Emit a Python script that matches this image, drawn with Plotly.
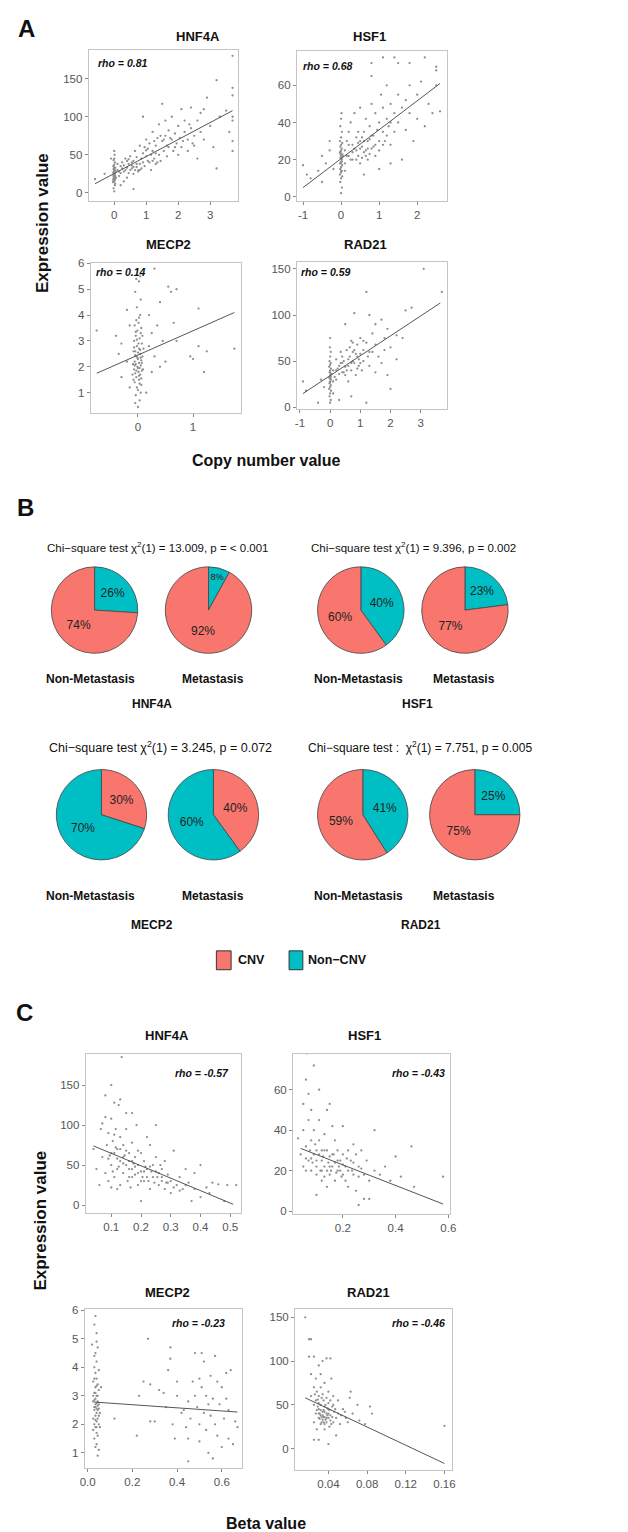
import plotly.graph_objects as go

W, H = 628, 1532

# ---------------- DATA ----------------
# Panel A: copy number value vs expression value
A_HNF4A_pts = [
    (0, 2), (-0.02, 6), (0.02, 10), (0.03, 12), (-0.04, 14), (0, 15), (0.02, 17), (-0.03, 18), (0.04, 19), (0, 20),
    (-0.02, 21), (0.03, 22), (0, 23), (-0.04, 24), (0.02, 25), (0, 26), (-0.03, 27), (0.04, 28), (0, 29), (0.02, 30),
    (-0.02, 31), (0, 32), (0.03, 33), (-0.03, 35), (0, 37), (0.02, 40), (-0.02, 43), (0, 45), (0.01, 50), (0, 55),
    (0, 24), (0.01, 19), (-0.01, 27), (0, 33), (0.02, 22), (-0.02, 16),
    (0.1, 30), (0.15, 22), (0.2, 35), (0.25, 40), (0.3, 28), (0.35, 45), (0.4, 33), (0.45, 38), (0.5, 30), (0.5, 48),
    (0.55, 36), (0.6, 42), (0.6, 25), (0.65, 55), (0.7, 34), (0.7, 47), (0.75, 30), (0.8, 62), (0.8, 38), (0.85, 45),
    (0.9, 100), (0.9, 52), (0.95, 35), (1.0, 70), (1.0, 48), (1.05, 58), (1.1, 40), (1.1, 65), (1.15, 30), (1.2, 55),
    (1.2, 80), (1.25, 45), (1.3, 62), (1.3, 38), (1.35, 72), (1.4, 50), (1.4, 90), (1.45, 42), (1.5, 117), (1.5, 68),
    (1.55, 55), (1.6, 75), (1.6, 95), (1.65, 48), (1.7, 82), (1.7, 60), (1.8, 70), (1.8, 100), (1.85, 55), (1.9, 78),
    (1.95, 65), (2.0, 88), (2.0, 50), (2.05, 72), (2.1, 110), (2.1, 60), (2.2, 80), (2.2, 95), (2.3, 70), (2.3, 55),
    (2.4, 85), (2.4, 112), (2.5, 75), (2.5, 62), (2.6, 95), (2.6, 45), (2.7, 105), (2.8, 110), (2.8, 70), (2.9, 125),
    (3.0, 88), (3.1, 60), (3.2, 148), (3.2, 32), (3.3, 100), (3.5, 108), (3.6, 80), (3.7, 180), (3.7, 138), (3.7, 128),
    (3.7, 100), (3.7, 68), (3.7, 55), (3.7, 95), (-0.6, 18), (-0.3, 25), (-0.1, 45), (0.3, 15), (0.6, 5), (0.4, 20),
    (0.2, 10), (0.55, 32), (0.65, 30), (0.75, 28), (1.25, 68), (1.45, 75), (0.95, 60), (1.05, 42), (0.45, 26),
    (0.35, 30), (0.45, 44), (0.55, 40), (0.7, 38), (0.85, 32), (0.9, 40), (1.0, 56), (1.15, 50), (1.3, 52),
    (1.35, 40), (1.55, 70), (1.65, 62), (1.75, 72), (1.9, 60), (2.15, 68), (2.35, 90), (2.45, 65), (2.7, 80),
    (0.25, 32), (0.15, 28), (0.05, 20), (0.1, 38), (0.2, 26), (0.3, 36), (0.4, 42), (0.6, 34), (0.8, 30), (1.2, 42),
]
A_HNF4A_fit_x = [-0.6, 3.7]
A_HNF4A_fit_y = [12, 108]

A_HSF1_pts = [
    (0, 2), (0.02, 5), (-0.02, 8), (0, 10), (0.03, 11), (-0.03, 12), (0, 13), (0.02, 14), (-0.02, 15), (0, 16),
    (0.03, 17), (-0.03, 18), (0, 19), (0.02, 20), (-0.02, 21), (0, 22), (0.03, 23), (-0.03, 24), (0, 25), (0.02, 26),
    (-0.02, 27), (0, 28), (0.03, 29), (-0.03, 30), (0, 32), (0.02, 35), (-0.02, 38), (0, 42), (0.01, 45),
    (0, 18), (0.01, 21), (-0.01, 24), (0, 14), (0.02, 19), (-0.02, 23),
    (-1.0, 17), (-0.9, 12), (-0.8, 10), (-0.6, 14), (-0.5, 8), (-0.5, 22), (-0.4, 18), (-0.3, 30), (-0.3, 25), (-0.2, 15),
    (0.1, 25), (0.1, 18), (0.15, 30), (0.2, 22), (0.2, 35), (0.25, 40), (0.3, 20), (0.3, 28), (0.35, 45), (0.4, 25),
    (0.4, 32), (0.45, 22), (0.5, 30), (0.5, 48), (0.5, 18), (0.55, 27), (0.6, 35), (0.6, 24), (0.65, 42), (0.7, 30),
    (0.7, 20), (0.75, 38), (0.8, 26), (0.8, 50), (0.85, 33), (0.9, 28), (0.9, 45), (0.95, 36), (1.0, 40), (1.0, 25),
    (1.05, 55), (1.1, 35), (1.1, 48), (1.15, 30), (1.2, 42), (1.2, 60), (1.25, 38), (1.3, 50), (1.3, 28), (1.4, 45),
    (1.4, 35), (1.5, 55), (1.5, 40), (1.6, 48), (1.7, 36), (1.7, 52), (1.8, 45), (1.8, 60), (1.9, 30), (2.0, 55),
    (2.0, 42), (2.1, 62), (2.2, 38), (2.3, 50), (2.4, 45), (2.6, 46), (2.5, 60), (1.6, 20), (1.3, 18), (0.6, 12),
    (1.0, 15), (0.8, 72), (1.1, 75), (1.4, 75), (1.8, 72), (2.2, 75), (2.5, 70), (2.5, 68), (0.8, 65), (1.5, 72),
    (0.35, 26), (0.45, 29), (0.55, 21), (0.65, 25), (0.75, 23), (0.25, 20), (0.15, 22), (0.85, 27),
    (0.2, 28), (0.3, 24), (0.4, 20), (0.5, 26), (0.6, 30), (0.7, 26), (0.8, 33), (0.9, 22), (1.0, 30), (1.1, 28),
    (1.2, 33), (1.3, 40), (0.1, 14), (0.05, 22), (0.45, 35), (0.55, 32), (0.65, 22), (0.75, 31),
]
A_HSF1_fit_x = [-1.0, 2.6]
A_HSF1_fit_y = [5, 61]

A_MECP2_pts = [
    (0, 0.45), (0.03, 0.7), (-0.04, 0.9), (0.05, 1.0), (-0.02, 1.2), (0.06, 1.3), (-0.06, 1.4), (0.02, 1.5), (-0.03, 1.6),
    (0.04, 1.7), (-0.05, 1.75), (0.01, 1.8), (0.07, 1.85), (-0.07, 1.9), (0.03, 1.95), (-0.01, 2.0), (0.05, 2.05),
    (-0.04, 2.1), (0.02, 2.15), (-0.06, 2.2), (0.06, 2.25), (0, 2.3), (-0.03, 2.4), (0.04, 2.5), (-0.05, 2.6),
    (0.02, 2.7), (-0.02, 2.8), (0.07, 2.9), (-0.07, 3.0), (0.03, 3.1), (-0.04, 3.2), (0.05, 3.3), (-0.01, 3.4),
    (0.06, 3.5), (-0.06, 3.6), (0.01, 3.7), (-0.03, 3.8), (0.04, 4.0), (-0.02, 4.3), (0.05, 4.6), (-0.05, 4.9),
    (0.02, 5.3), (-0.03, 5.4), (0.04, 5.5), (0.08, 2.4), (-0.08, 2.6), (0.09, 1.9), (-0.09, 2.1), (0.1, 2.7),
    (-0.1, 1.7), (0.08, 3.2), (-0.08, 1.5), (0.0, 2.55), (0.02, 1.65), (-0.01, 2.35),
    (0.0, 1.1), (0.03, 1.35), (-0.03, 1.85), (0.05, 2.35), (-0.05, 2.45), (0.01, 2.9), (-0.04, 3.35), (0.06, 1.55),
    (-0.06, 2.05), (0.04, 2.65), (-0.02, 3.05), (0.02, 3.9), (0.07, 2.15), (-0.07, 2.75), (0.0, 1.95),
    (-0.75, 3.4), (-0.4, 3.2), (-0.35, 2.5), (-0.3, 1.6), (-0.3, 2.9), (-0.2, 4.2), (-0.2, 2.2), (-0.15, 3.6),
    (-0.15, 1.2), (0.2, 4.0), (0.2, 2.8), (0.25, 3.3), (0.25, 1.8), (0.3, 5.8), (0.3, 2.4), (0.35, 3.6), (0.4, 4.5),
    (0.4, 2.0), (0.45, 3.0), (0.5, 2.2), (0.55, 5.1), (0.6, 4.9), (0.65, 3.7), (0.7, 5.0), (0.7, 3.0), (0.95, 2.4),
    (1.0, 2.3), (1.1, 4.25), (1.1, 2.8), (1.2, 1.8), (1.25, 2.6), (1.75, 2.7), (0.15, 1.0), (-0.05, 0.6),
]
A_MECP2_fit_x = [-0.75, 1.75]
A_MECP2_fit_y = [1.75, 4.1]

A_RAD21_pts = [
    (0, 5), (0.02, 8), (-0.02, 12), (0, 15), (0.03, 18), (-0.03, 20), (0, 22), (0.02, 24), (-0.02, 26), (0, 28),
    (0.03, 30), (-0.03, 32), (0, 34), (0.02, 36), (-0.02, 38), (0, 40), (0.03, 42), (-0.03, 44), (0, 46), (0.02, 48),
    (-0.02, 50), (0, 55), (0.02, 60), (-0.01, 65), (0, 75), (0, 31), (0.01, 35), (-0.01, 27), (0, 38), (0.02, 33),
    (-0.9, 28), (-0.8, 18), (-0.4, 5), (-0.3, 30), (-0.2, 22), (0.1, 40), (0.1, 15), (0.2, 52), (0.2, 30), (0.3, 45),
    (0.3, 8), (0.35, 60), (0.4, 38), (0.45, 50), (0.5, 35), (0.5, 90), (0.55, 62), (0.6, 45), (0.6, 28), (0.65, 55),
    (0.7, 72), (0.7, 40), (0.75, 60), (0.8, 48), (0.8, 102), (0.85, 35), (0.9, 55), (0.9, 68), (0.95, 45), (1.0, 58),
    (1.0, 75), (1.05, 40), (1.1, 62), (1.1, 50), (1.2, 125), (1.2, 70), (1.25, 55), (1.3, 100), (1.3, 45), (1.4, 80),
    (1.4, 60), (1.5, 68), (1.5, 90), (1.6, 55), (1.7, 95), (1.7, 48), (1.8, 75), (1.8, 62), (1.9, 35), (1.9, 85),
    (2.0, 65), (2.0, 20), (2.2, 52), (2.2, 78), (2.4, 75), (2.5, 105), (2.7, 108), (3.1, 150), (3.7, 125), (1.2, 5),
    (0.7, 12), (1.5, 38), (0.25, 42), (0.4, 48), (0.55, 40), (0.65, 65), (0.75, 50), (0.85, 58), (0.15, 33),
    (0.2, 40), (0.3, 36), (0.4, 55), (0.5, 44), (0.6, 52), (0.7, 48), (0.8, 62), (0.9, 42), (1.0, 48), (1.1, 72),
    (1.3, 60), (0.05, 36), (0.1, 28), (0.35, 48), (0.45, 38), (0.75, 70), (0.95, 52),
]
A_RAD21_fit_x = [-0.9, 3.65]
A_RAD21_fit_y = [15, 113]

# Panel B: CNV share (%) per group, in drawing order (clockwise from 12 o'clock)
B_groups = ["Non-Metastasis", "Metastasis"]
B_HNF4A = [(["Non-CNV", "CNV"], [26, 74]), (["Non-CNV", "CNV"], [8, 92])]
B_HSF1 = [(["Non-CNV", "CNV"], [40, 60]), (["Non-CNV", "CNV"], [23, 77])]
B_MECP2 = [(["CNV", "Non-CNV"], [30, 70]), (["CNV", "Non-CNV"], [40, 60])]
B_RAD21 = [(["Non-CNV", "CNV"], [41, 59]), (["Non-CNV", "CNV"], [25, 75])]
B_titles = [
    "Chi−square test χ<sup>2</sup>(1) = 13.009, p = < 0.001",
    "Chi−square test χ<sup>2</sup>(1) = 9.396, p = 0.002",
    "Chi−square test χ<sup>2</sup>(1) = 3.245, p = 0.072",
    "Chi−square test :  χ<sup>2</sup>(1) = 7.751, p = 0.005",
]
B_genes = ["HNF4A", "HSF1", "MECP2", "RAD21"]

# Panel C: beta value vs expression value
C_HNF4A_pts = [
    (0.04, 70), (0.05, 45), (0.06, 25), (0.065, 95), (0.07, 102), (0.07, 60), (0.08, 137), (0.08, 110), (0.08, 40),
    (0.085, 75), (0.09, 30), (0.09, 90), (0.095, 62), (0.1, 150), (0.1, 108), (0.1, 50), (0.1, 22), (0.105, 80),
    (0.11, 128), (0.11, 65), (0.11, 35), (0.115, 95), (0.12, 70), (0.12, 45), (0.125, 125), (0.13, 132), (0.13, 85),
    (0.13, 55), (0.13, 25), (0.14, 60), (0.14, 75), (0.14, 40), (0.15, 115), (0.15, 50), (0.15, 95), (0.155, 30),
    (0.16, 65), (0.16, 45), (0.165, 22), (0.17, 115), (0.17, 55), (0.17, 78), (0.18, 38), (0.18, 60), (0.185, 100),
    (0.19, 50), (0.19, 25), (0.2, 65), (0.2, 42), (0.2, 5), (0.21, 55), (0.21, 30), (0.22, 85), (0.22, 45),
    (0.23, 75), (0.23, 20), (0.24, 50), (0.24, 35), (0.25, 100), (0.25, 60), (0.26, 40), (0.26, 25), (0.27, 45),
    (0.27, 30), (0.28, 20), (0.28, 55), (0.29, 38), (0.3, 30), (0.3, 15), (0.31, 68), (0.32, 25), (0.33, 35),
    (0.34, 20), (0.35, 45), (0.36, 28), (0.37, 5), (0.38, 40), (0.38, 20), (0.4, 50), (0.4, 10), (0.42, 22),
    (0.43, 15), (0.44, 28), (0.46, 26), (0.48, 5), (0.49, 25), (0.52, 25), (0.135, 185), (0.12, 20), (0.17, 45),
    (0.09, 58), (0.105, 42), (0.115, 72), (0.125, 48), (0.145, 62), (0.16, 35), (0.175, 52), (0.19, 68), (0.205, 35),
    (0.215, 48), (0.225, 30), (0.235, 42), (0.245, 28), (0.255, 35), (0.265, 50), (0.285, 28), (0.31, 22), (0.33, 18),
    (0.1, 65), (0.11, 88), (0.12, 58), (0.13, 70), (0.14, 52), (0.15, 68), (0.16, 55), (0.17, 35), (0.18, 48),
    (0.19, 40), (0.2, 30), (0.21, 42), (0.22, 35), (0.23, 48), (0.25, 42), (0.27, 35), (0.29, 28), (0.35, 25),
]
C_HNF4A_fit_x = [0.04, 0.51]
C_HNF4A_fit_y = [74, 1]

C_HSF1_pts = [
    (0.03, 36), (0.04, 28), (0.05, 53), (0.05, 40), (0.05, 22), (0.06, 65), (0.06, 32), (0.065, 78), (0.07, 58),
    (0.07, 45), (0.07, 25), (0.08, 50), (0.08, 35), (0.08, 20), (0.09, 72), (0.09, 40), (0.09, 28), (0.1, 30),
    (0.1, 18), (0.1, 8), (0.11, 60), (0.11, 45), (0.11, 35), (0.12, 25), (0.12, 15), (0.13, 38), (0.13, 22),
    (0.14, 50), (0.14, 30), (0.14, 12), (0.15, 53), (0.15, 27), (0.15, 18), (0.16, 42), (0.16, 22), (0.17, 35),
    (0.17, 15), (0.18, 30), (0.18, 20), (0.19, 25), (0.2, 42), (0.2, 28), (0.2, 18), (0.21, 22), (0.22, 30),
    (0.22, 12), (0.23, 25), (0.24, 33), (0.24, 18), (0.25, 28), (0.25, 10), (0.26, 3), (0.26, 22), (0.27, 30),
    (0.28, 18), (0.28, 6), (0.29, 25), (0.3, 15), (0.3, 6), (0.32, 40), (0.32, 20), (0.34, 18), (0.36, 22),
    (0.38, 15), (0.4, 27), (0.42, 17), (0.46, 32), (0.47, 12), (0.58, 17), (0.1, 22), (0.12, 30), (0.06, 20),
    (0.13, 17), (0.18, 25), (0.21, 15), (0.085, 24), (0.095, 33), (0.115, 20), (0.125, 27), (0.145, 24),
    (0.155, 20), (0.165, 28), (0.175, 19), (0.185, 22), (0.195, 17), (0.215, 26), (0.235, 20), (0.075, 30),
    (0.08, 26), (0.1, 25), (0.11, 28), (0.12, 20), (0.13, 30), (0.14, 20), (0.15, 22), (0.16, 28), (0.17, 24),
    (0.19, 20), (0.2, 23), (0.22, 20), (0.24, 24), (0.26, 17), (0.27, 21), (0.06, 26),
]
C_HSF1_fit_x = [0.04, 0.58]
C_HSF1_fit_y = [31, 3.5]

C_MECP2_pts = [
    (0.02, 4.8), (0.025, 3.5), (0.025, 2.8), (0.025, 1.8), (0.03, 5.5), (0.03, 4.0), (0.03, 3.1), (0.03, 2.5),
    (0.03, 2.0), (0.03, 1.5), (0.035, 5.8), (0.035, 4.5), (0.035, 3.8), (0.035, 3.3), (0.035, 2.9), (0.035, 2.6),
    (0.035, 2.3), (0.035, 1.9), (0.035, 1.2), (0.04, 5.2), (0.04, 4.2), (0.04, 3.6), (0.04, 3.0), (0.04, 2.75),
    (0.04, 2.4), (0.04, 2.1), (0.04, 1.7), (0.04, 1.3), (0.045, 4.7), (0.045, 3.4), (0.045, 2.8), (0.045, 2.5),
    (0.045, 2.2), (0.045, 1.6), (0.045, 0.9), (0.05, 3.9), (0.05, 3.2), (0.05, 2.7), (0.05, 2.0), (0.05, 1.1),
    (0.055, 2.4), (0.055, 1.9), (0.06, 3.3), (0.03, 2.6), (0.04, 2.55), (0.035, 2.7), (0.03, 3.6), (0.045, 3.0),
    (0.05, 2.3), (0.025, 2.2), (0.04, 1.9), (0.035, 3.1), (0.03, 2.85), (0.04, 3.35), (0.045, 2.65), (0.035, 2.15),
    (0.025, 3.0), (0.05, 2.55), (0.03, 4.4), (0.04, 4.9),
    (0.12, 2.2), (0.22, 1.6), (0.23, 3.0), (0.25, 3.5), (0.27, 5.0), (0.28, 2.1), (0.28, 3.4), (0.3, 2.1),
    (0.32, 3.2), (0.34, 3.1), (0.35, 2.6), (0.36, 3.9), (0.37, 4.7), (0.37, 4.3), (0.38, 2.0), (0.39, 1.5),
    (0.4, 3.0), (0.4, 3.5), (0.42, 2.4), (0.43, 2.5), (0.44, 1.9), (0.45, 0.7), (0.45, 2.8), (0.46, 2.2),
    (0.47, 3.5), (0.48, 4.5), (0.48, 3.0), (0.49, 2.6), (0.5, 1.4), (0.5, 2.0), (0.51, 4.5), (0.51, 3.3),
    (0.52, 2.4), (0.52, 4.2), (0.53, 1.8), (0.53, 3.0), (0.54, 2.7), (0.54, 1.0), (0.55, 3.7), (0.55, 2.3),
    (0.56, 0.8), (0.56, 2.9), (0.57, 4.4), (0.57, 2.0), (0.58, 3.5), (0.58, 1.6), (0.59, 2.7), (0.6, 3.3),
    (0.6, 1.2), (0.61, 2.2), (0.62, 3.8), (0.62, 2.9), (0.63, 1.5), (0.63, 2.5), (0.64, 3.9), (0.65, 1.3),
    (0.66, 2.1), (0.67, 1.9), (0.45, 1.5), (0.5, 3.6),
]
C_MECP2_fit_x = [0.03, 0.67]
C_MECP2_fit_y = [2.78, 2.43]

C_RAD21_pts = [
    (0.016, 150), (0.02, 125), (0.02, 105), (0.022, 125), (0.022, 85), (0.022, 60), (0.025, 105), (0.025, 70),
    (0.025, 50), (0.025, 30), (0.025, 10), (0.027, 80), (0.027, 55), (0.027, 40), (0.028, 65), (0.028, 22),
    (0.03, 95), (0.03, 60), (0.03, 45), (0.03, 35), (0.03, 10), (0.032, 85), (0.032, 70), (0.032, 50), (0.032, 38),
    (0.032, 28), (0.034, 100), (0.034, 62), (0.034, 42), (0.034, 33), (0.035, 55), (0.035, 30), (0.036, 75),
    (0.036, 48), (0.036, 36), (0.036, 22), (0.038, 103), (0.038, 58), (0.038, 40), (0.038, 30), (0.04, 65),
    (0.04, 45), (0.04, 35), (0.04, 5), (0.041, 25), (0.042, 103), (0.042, 55), (0.042, 38), (0.043, 80),
    (0.044, 48), (0.045, 30), (0.045, 60), (0.046, 42), (0.048, 35), (0.048, 15), (0.05, 55), (0.05, 40),
    (0.052, 28), (0.055, 45), (0.058, 35), (0.06, 30), (0.062, 58), (0.063, 65), (0.065, 40), (0.07, 50),
    (0.072, 32), (0.078, 28), (0.083, 48), (0.085, 40), (0.16, 26), (0.03, 52), (0.035, 44), (0.04, 52),
    (0.045, 50), (0.033, 58), (0.031, 40), (0.033, 36), (0.037, 33), (0.039, 38), (0.029, 48), (0.026, 62),
    (0.044, 36), (0.047, 45), (0.053, 38), (0.057, 42), (0.036, 28), (0.039, 46), (0.028, 44),
    (0.03, 40), (0.032, 44), (0.034, 38), (0.036, 42), (0.038, 35), (0.04, 40), (0.042, 32), (0.035, 36),
    (0.037, 50), (0.033, 30), (0.041, 44), (0.029, 56), (0.043, 28), (0.031, 34),
]
C_RAD21_fit_x = [0.016, 0.16]
C_RAD21_fit_y = [58, -17]

# ---------------- LAYOUT HELPERS ----------------
def fx(p):
    return p / W


def fy(p):
    return 1 - p / H


COL = {"CNV": "#F8766D", "Non-CNV": "#00BFC4"}
FONT = "Liberation Sans, Arial, sans-serif"

scatter_panels = [
    dict(pts=A_HNF4A_pts, fxv=A_HNF4A_fit_x, fyv=A_HNF4A_fit_y, box=(77, 229, 36, 188),
         xr=[-0.8, 3.87], yr=[-10.4, 188], xt=[0, 1, 2, 3], yt=[0, 50, 100, 150],
         rho="rho = 0.81", rpos=(111, 49), title="HNF4A", tpos=(188, 23)),
    dict(pts=A_HSF1_pts, fxv=A_HSF1_fit_x, fyv=A_HSF1_fit_y, box=(289, 442, 37, 188),
         xr=[-1.16, 2.79], yr=[-2.1, 78.6], xt=[-1, 0, 1, 2], yt=[0, 20, 40, 60],
         rho="rho = 0.68", rpos=(320, 52), title="HSF1", tpos=(363, 23)),
    dict(pts=A_MECP2_pts, fxv=A_MECP2_fit_x, fyv=A_MECP2_fit_y, box=(79, 232, 251, 402),
         xr=[-0.86, 1.87], yr=[0.2, 6.0], xt=[0, 1], yt=[1, 2, 3, 4, 5, 6],
         rho="rho = 0.14", rpos=(109, 260), title="MECP2", tpos=(158, 232)),
    dict(pts=A_RAD21_pts, fxv=A_RAD21_fit_x, fyv=A_RAD21_fit_y, box=(289, 442, 250, 398),
         xr=[-1.1, 3.88], yr=[-2.2, 157], xt=[-1, 0, 1, 2, 3], yt=[0, 50, 100, 150],
         rho="rho = 0.59", rpos=(318, 260), title="RAD21", tpos=(359, 232)),
    dict(pts=C_HNF4A_pts, fxv=C_HNF4A_fit_x, fyv=C_HNF4A_fit_y, box=(74, 232, 1047, 1207),
         xr=[0.014, 0.536], yr=[-10, 188.6], xt=[0.1, 0.2, 0.3, 0.4, 0.5], yt=[0, 50, 100, 150],
         rho="rho = -0.57", rpos=(192, 1066), title="HNF4A", tpos=(157, 1028)),
    dict(pts=C_HSF1_pts, fxv=C_HSF1_fit_x, fyv=C_HSF1_fit_y, box=(285, 445, 1047, 1208),
         xr=[0.011, 0.607], yr=[-1.5, 77.6], xt=[0.2, 0.4, 0.6], yt=[0, 20, 40, 60],
         rho="rho = -0.43", rpos=(413, 1066), title="HSF1", tpos=(358, 1028)),
    dict(pts=C_MECP2_pts, fxv=C_MECP2_fit_x, fyv=C_MECP2_fit_y, box=(73, 233, 1304, 1464),
         xr=[-0.013, 0.69], yr=[0.45, 6.03], xt=[0, 0.2, 0.4, 0.6], xtt=["0.0", "0.2", "0.4", "0.6"],
         yt=[1, 2, 3, 4, 5, 6], rho="rho = -0.23", rpos=(189, 1318), title="MECP2", tpos=(157, 1287)),
    dict(pts=C_RAD21_pts, fxv=C_RAD21_fit_x, fyv=C_RAD21_fit_y, box=(287, 447, 1304, 1466),
         xr=[0.0054, 0.168], yr=[-25, 159], xt=[0.04, 0.08, 0.12, 0.16], yt=[0, 50, 100, 150],
         rho="rho = -0.46", rpos=(413, 1318), title="RAD21", tpos=(362, 1287)),
]

fig = go.Figure()
layout = {}
annotations = []
shapes = []


def ann(text, x, y, size, bold=False, italic=False, color="#111", family=FONT, angle=0, xanchor="center"):
    t = text
    if bold:
        t = "<b>" + t + "</b>"
    if italic:
        t = "<i>" + t + "</i>"
    annotations.append(dict(text=t, x=fx(x), y=fy(y), xref="paper", yref="paper", showarrow=False,
                            xanchor=xanchor, yanchor="middle", textangle=angle,
                            font=dict(size=size, color=color, family=family)))


for i, p in enumerate(scatter_panels, start=1):
    xa = "x" if i == 1 else f"x{i}"
    ya = "y" if i == 1 else f"y{i}"
    xs = [q[0] for q in p["pts"]]
    ys = [q[1] for q in p["pts"]]
    fig.add_trace(go.Scatter(x=xs, y=ys, mode="markers", xaxis=xa, yaxis=ya, showlegend=False,
                             marker=dict(size=2.3, color="#8f8f8f", line=dict(width=0))))
    fig.add_trace(go.Scatter(x=p["fxv"], y=p["fyv"], mode="lines", xaxis=xa, yaxis=ya, showlegend=False,
                             line=dict(color="#555555", width=1)))
    l, r, t, b = p["box"]
    axcommon = dict(showline=True, mirror=True, linecolor="#c4c4c4", linewidth=1, ticks="outside",
                    ticklen=3, tickcolor="#888", showgrid=False, zeroline=False,
                    tickfont=dict(size=11.5, color="#555", family=FONT))
    layout[f"xaxis{i}"] = dict(domain=[fx(l), fx(r)], range=p["xr"], anchor=ya, tickvals=p["xt"],
                               ticktext=p.get("xtt", [str(v) for v in p["xt"]]), **axcommon)
    layout[f"yaxis{i}"] = dict(domain=[fy(b), fy(t)], range=p["yr"], anchor=xa, tickvals=p["yt"],
                               ticktext=[str(v) for v in p["yt"]], **axcommon)
    ann(p["rho"], p["rpos"][0], p["rpos"][1], 10.5, bold=True, italic=True)
    ann(p["title"], p["tpos"][0], p["tpos"][1], 13, bold=True)

# ---------------- PIES ----------------
pie_sets = [B_HNF4A, B_HSF1, B_MECP2, B_RAD21]
pie_centers = [
    [(83, 600, 44), (199, 600, 44)],
    [(354, 600, 44), (460, 600, 44)],
    [(90, 806, 46), (204, 806, 46)],
    [(356, 806, 46), (470, 806, 46)],
]
for gi, (pset, cents) in enumerate(zip(pie_sets, pie_centers)):
    for (labels, vals), (cx, cy, rr) in zip(pset, cents):
        fig.add_trace(go.Pie(
            labels=labels, values=vals, sort=False, direction="clockwise", rotation=0,
            marker=dict(colors=[COL[k] for k in labels], line=dict(color="#444", width=0.8)),
            text=[f"{v}%" for v in vals], textinfo="text", textposition="inside",
            insidetextorientation="horizontal", hoverinfo="label+value",
            textfont=dict(size=12, color="#222", family=FONT), showlegend=False,
            domain=dict(x=[fx(cx - rr), fx(cx + rr)], y=[fy(cy + rr), fy(cy - rr)]),
        ))

# B titles / labels
ann(B_titles[0], 148, 537, 11.5)
ann(B_titles[1], 408, 537, 11.5)
ann(B_titles[2], 150, 738, 12.5)
ann(B_titles[3], 414, 738, 12)
for (x1, x2, yl, gx, gy, g) in [(79, 204, 669, 141, 695, B_genes[0]), (352, 459, 669, 412, 695, B_genes[1]),
                                (79, 204, 888, 141, 917, B_genes[2]), (352, 459, 888, 415, 917, B_genes[3])]:
    ann(B_groups[0], x1, yl, 12, bold=True)
    ann(B_groups[1], x2, yl, 12, bold=True)
    ann(g, gx, gy, 12, bold=True)

# Legend (CNV / Non-CNV)
for (x0, x1, key, tx, lab) in [(207, 222, "CNV", 243, "CNV"), (281, 295, "Non-CNV", 330, "Non−CNV")]:
    shapes.append(dict(type="rect", xref="paper", yref="paper", x0=fx(x0), x1=fx(x1), y0=fy(962), y1=fy(943),
                       fillcolor=COL[key], line=dict(color="#333", width=1)))
    ann(lab, tx, 952, 12.5, bold=True)

# Panel letters and axis titles
ann("A", 14, 15, 24, bold=True)
ann("B", 13, 497, 24, bold=True)
ann("C", 12, 1005, 24, bold=True)
ann("Expression value", 30, 210, 17, bold=True, angle=-90)
ann("Copy number value", 258, 449, 16, bold=True)
ann("Expression value", 28, 1215, 17, bold=True, angle=-90)
ann("Beta value", 258, 1519, 16, bold=True)

fig.update_layout(width=W, height=H, margin=dict(l=0, r=0, t=0, b=0),
                  paper_bgcolor="white", plot_bgcolor="white",
                  annotations=annotations, shapes=shapes, **layout)
fig.write_html("out.html")
